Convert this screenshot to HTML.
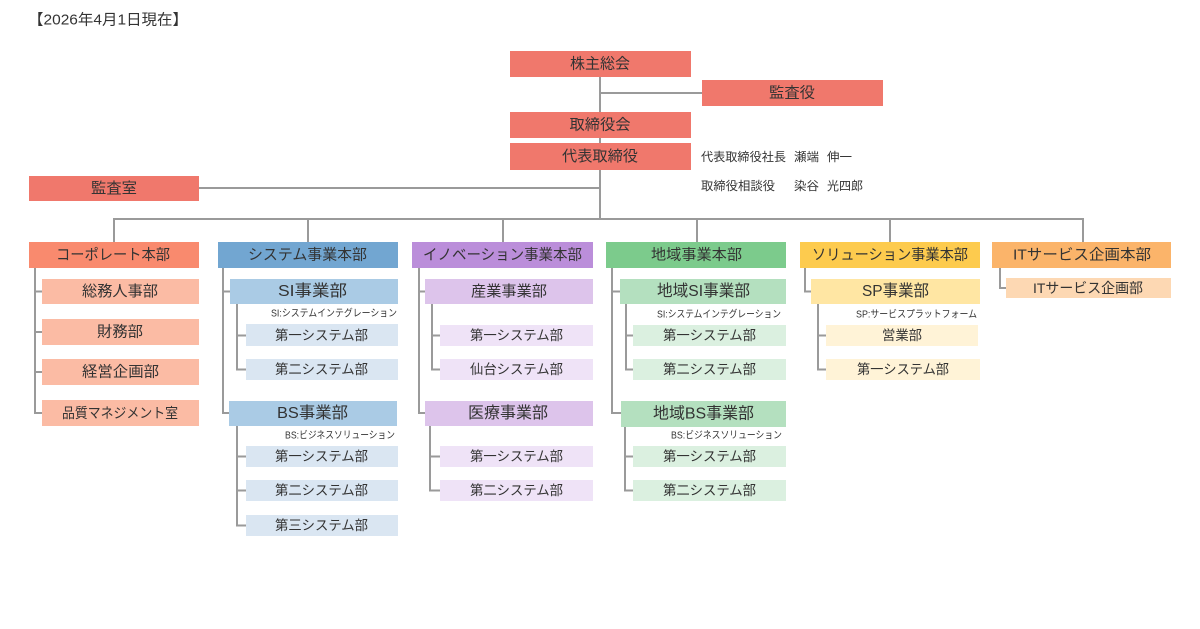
<!DOCTYPE html>
<html lang="ja">
<head>
<meta charset="utf-8">
<style>
  html,body{margin:0;padding:0;background:#fff;}
  svg{display:block;}
  text{font-family:"Liberation Sans","Noto Sans CJK JP",sans-serif;fill:#333;}
</style>
</head>
<body>
<svg width="1200" height="629" viewBox="0 0 1200 629" xmlns="http://www.w3.org/2000/svg">
  <!-- date -->
  <text x="28" y="20" font-size="15" dominant-baseline="central" textLength="160" lengthAdjust="spacingAndGlyphs">【2026年4月1日現在】</text>

  <!-- lines -->
  <g stroke="#9a9a9a" stroke-width="2" fill="none">
    <line x1="600" y1="77" x2="600" y2="219"/>
    <line x1="600" y1="93" x2="702" y2="93"/>
    <line x1="199" y1="188" x2="600" y2="188"/>
    <line x1="113" y1="219" x2="1084" y2="219"/>
    <line x1="114" y1="219" x2="114" y2="242"/>
    <line x1="308" y1="219" x2="308" y2="242"/>
    <line x1="503" y1="219" x2="503" y2="242"/>
    <line x1="697" y1="219" x2="697" y2="242"/>
    <line x1="890" y1="219" x2="890" y2="242"/>
    <line x1="1083" y1="219" x2="1083" y2="242"/>

    <!-- corporate -->
    <polyline points="35,268 35,413 42,413"/>
    <line x1="35" y1="291.5" x2="42" y2="291.5"/>
    <line x1="35" y1="332" x2="42" y2="332"/>
    <line x1="35" y1="372" x2="42" y2="372"/>

    <!-- system -->
    <polyline points="223,268 223,413 229,413"/>
    <line x1="223" y1="291.5" x2="230" y2="291.5"/>
    <polyline points="237,304 237,369.5 246,369.5"/>
    <line x1="237" y1="335.5" x2="246" y2="335.5"/>
    <polyline points="237,426 237,525.5 246,525.5"/>
    <line x1="237" y1="456.5" x2="246" y2="456.5"/>
    <line x1="237" y1="490.5" x2="246" y2="490.5"/>

    <!-- innovation -->
    <polyline points="419,268 419,413 425,413"/>
    <line x1="419" y1="291.5" x2="425" y2="291.5"/>
    <polyline points="432,304 432,369.5 440,369.5"/>
    <line x1="432" y1="335.5" x2="440" y2="335.5"/>
    <polyline points="430,426 430,490.5 440,490.5"/>
    <line x1="430" y1="456.5" x2="440" y2="456.5"/>

    <!-- local -->
    <polyline points="612,268 612,413 621,413"/>
    <line x1="612" y1="291.5" x2="620" y2="291.5"/>
    <polyline points="626,304 626,369.5 633,369.5"/>
    <line x1="626" y1="335.5" x2="633" y2="335.5"/>
    <polyline points="625,427 625,490.5 633,490.5"/>
    <line x1="625" y1="456.5" x2="633" y2="456.5"/>

    <!-- solution -->
    <polyline points="805,268 805,291.5 811,291.5"/>
    <polyline points="818,304 818,369.5 826,369.5"/>
    <line x1="818" y1="335.5" x2="826" y2="335.5"/>

    <!-- IT -->
    <polyline points="1000,268 1000,288 1006,288"/>
  </g>

  <!-- top boxes -->
  <g fill="#F0786C">
    <rect x="510" y="51" width="181" height="26"/>
    <rect x="702" y="80" width="181" height="26"/>
    <rect x="510" y="112" width="181" height="26"/>
    <rect x="510" y="143" width="181" height="27"/>
    <rect x="29" y="176" width="170" height="25"/>
  </g>
  <g font-size="15" text-anchor="middle" dominant-baseline="central">
    <text x="600" y="64" textLength="60" lengthAdjust="spacingAndGlyphs">株主総会</text>
    <text x="792" y="93" textLength="46" lengthAdjust="spacingAndGlyphs">監査役</text>
    <text x="600" y="125" textLength="61" lengthAdjust="spacingAndGlyphs">取締役会</text>
    <text x="600" y="156.5" textLength="76" lengthAdjust="spacingAndGlyphs">代表取締役</text>
    <text x="114" y="188.5" textLength="46" lengthAdjust="spacingAndGlyphs">監査室</text>
  </g>

  <!-- executives -->
  <g font-size="12" dominant-baseline="central">
    <text x="701" y="157" textLength="85" lengthAdjust="spacingAndGlyphs">代表取締役社長</text>
    <text x="794" y="157" textLength="25" lengthAdjust="spacingAndGlyphs">瀬端</text>
    <text x="827" y="157" textLength="25" lengthAdjust="spacingAndGlyphs">伸一</text>
    <text x="701" y="186" textLength="74" lengthAdjust="spacingAndGlyphs">取締役相談役</text>
    <text x="794" y="186" textLength="25" lengthAdjust="spacingAndGlyphs">染谷</text>
    <text x="827" y="186" textLength="36" lengthAdjust="spacingAndGlyphs">光四郎</text>
  </g>

  <!-- headers -->
  <rect x="29" y="242" width="170" height="26" fill="#F98A6E"/>
  <rect x="218" y="242" width="180" height="26" fill="#72A6D1"/>
  <rect x="412" y="242" width="181" height="26" fill="#BB8EDA"/>
  <rect x="606" y="242" width="180" height="26" fill="#7CCB8C"/>
  <rect x="800" y="242" width="180" height="26" fill="#FDCB4E"/>
  <rect x="992" y="242" width="179" height="26" fill="#FBB46A"/>
  <g font-size="15" text-anchor="middle" dominant-baseline="central">
    <text x="113" y="255" textLength="114" lengthAdjust="spacingAndGlyphs">コーポレート本部</text>
    <text x="307.5" y="255" textLength="119" lengthAdjust="spacingAndGlyphs">システム事業本部</text>
    <text x="502.5" y="255" textLength="159" lengthAdjust="spacingAndGlyphs">イノベーション事業本部</text>
    <text x="696.5" y="255" textLength="91" lengthAdjust="spacingAndGlyphs">地域事業本部</text>
    <text x="890" y="255" textLength="156" lengthAdjust="spacingAndGlyphs">ソリューション事業本部</text>
    <text x="1082" y="255" textLength="138" lengthAdjust="spacingAndGlyphs">ITサービス企画本部</text>
  </g>

  <!-- corporate subs -->
  <g fill="#FBBBA4">
    <rect x="42" y="279" width="157" height="25"/>
    <rect x="42" y="319" width="157" height="26"/>
    <rect x="42" y="359" width="157" height="26"/>
    <rect x="42" y="400" width="157" height="26"/>
  </g>
  <g font-size="15" text-anchor="middle" dominant-baseline="central">
    <text x="120" y="291.5" textLength="76" lengthAdjust="spacingAndGlyphs">総務人事部</text>
    <text x="120" y="332" textLength="46" lengthAdjust="spacingAndGlyphs">財務部</text>
    <text x="120.5" y="372" textLength="77" lengthAdjust="spacingAndGlyphs">経営企画部</text>
    <text x="120" y="413" font-size="14" textLength="116" lengthAdjust="spacingAndGlyphs">品質マネジメント室</text>
  </g>

  <!-- division boxes (level 2) -->
  <rect x="230" y="279" width="168" height="25" fill="#AACBE5"/>
  <rect x="229" y="401" width="168" height="25" fill="#AACBE5"/>
  <rect x="425" y="279" width="168" height="25" fill="#DDC4EB"/>
  <rect x="425" y="401" width="168" height="25" fill="#DDC4EB"/>
  <rect x="620" y="279" width="166" height="25" fill="#B4E0BF"/>
  <rect x="621" y="401" width="165" height="26" fill="#B4E0BF"/>
  <rect x="811" y="279" width="169" height="25" fill="#FFE6A3"/>
  <rect x="1006" y="278" width="165" height="20" fill="#FDD8B3"/>
  <g font-size="16" text-anchor="middle" dominant-baseline="central">
    <text x="312.5" y="291.5" textLength="69" lengthAdjust="spacingAndGlyphs">SI事業部</text>
    <text x="312.5" y="413.5" textLength="71" lengthAdjust="spacingAndGlyphs">BS事業部</text>
    <text x="509" y="291.5" font-size="15" textLength="76" lengthAdjust="spacingAndGlyphs">産業事業部</text>
    <text x="508" y="413.5" textLength="80" lengthAdjust="spacingAndGlyphs">医療事業部</text>
    <text x="703.5" y="291.5" textLength="93" lengthAdjust="spacingAndGlyphs">地域SI事業部</text>
    <text x="703.5" y="414" textLength="101" lengthAdjust="spacingAndGlyphs">地域BS事業部</text>
    <text x="895.5" y="291.5" textLength="67" lengthAdjust="spacingAndGlyphs">SP事業部</text>
    <text x="1088" y="288" font-size="14" textLength="110" lengthAdjust="spacingAndGlyphs">ITサービス企画部</text>
  </g>

  <!-- notes -->
  <g font-size="10" text-anchor="end" dominant-baseline="central">
    <text x="397" y="314" textLength="126" lengthAdjust="spacingAndGlyphs">SI:システムインテグレーション</text>
    <text x="395" y="436" textLength="110" lengthAdjust="spacingAndGlyphs">BS:ビジネスソリューション</text>
    <text x="781" y="315" textLength="124" lengthAdjust="spacingAndGlyphs">SI:システムインテグレーション</text>
    <text x="782" y="436" textLength="111" lengthAdjust="spacingAndGlyphs">BS:ビジネスソリューション</text>
    <text x="977" y="315" textLength="121" lengthAdjust="spacingAndGlyphs">SP:サービスプラットフォーム</text>
  </g>

  <!-- level 3 boxes -->
  <g fill="#DAE6F2">
    <rect x="246" y="324" width="152" height="22"/>
    <rect x="246" y="359" width="152" height="21"/>
    <rect x="246" y="446" width="152" height="21"/>
    <rect x="246" y="480" width="152" height="21"/>
    <rect x="246" y="515" width="152" height="21"/>
  </g>
  <g fill="#EFE3F7">
    <rect x="440" y="325" width="153" height="21"/>
    <rect x="440" y="359" width="153" height="21"/>
    <rect x="440" y="446" width="153" height="21"/>
    <rect x="440" y="480" width="153" height="21"/>
  </g>
  <g fill="#DBF0E0">
    <rect x="633" y="325" width="153" height="21"/>
    <rect x="633" y="359" width="153" height="21"/>
    <rect x="633" y="446" width="153" height="21"/>
    <rect x="633" y="480" width="153" height="21"/>
  </g>
  <g fill="#FFF3D7">
    <rect x="826" y="325" width="152" height="21"/>
    <rect x="826" y="359" width="154" height="21"/>
  </g>
  <g font-size="13.5" text-anchor="middle" dominant-baseline="central">
    <text x="321.5" y="335.5" textLength="93" lengthAdjust="spacingAndGlyphs">第一システム部</text>
    <text x="321.5" y="369.5" textLength="93" lengthAdjust="spacingAndGlyphs">第二システム部</text>
    <text x="321.5" y="456.5" textLength="93" lengthAdjust="spacingAndGlyphs">第一システム部</text>
    <text x="321.5" y="490.5" textLength="93" lengthAdjust="spacingAndGlyphs">第二システム部</text>
    <text x="321.5" y="525.5" textLength="93" lengthAdjust="spacingAndGlyphs">第三システム部</text>

    <text x="516.5" y="335.5" textLength="93" lengthAdjust="spacingAndGlyphs">第一システム部</text>
    <text x="516.5" y="369.5" textLength="93" lengthAdjust="spacingAndGlyphs">仙台システム部</text>
    <text x="516.5" y="456.5" textLength="93" lengthAdjust="spacingAndGlyphs">第一システム部</text>
    <text x="516.5" y="490.5" textLength="93" lengthAdjust="spacingAndGlyphs">第二システム部</text>

    <text x="709.5" y="335.5" textLength="93" lengthAdjust="spacingAndGlyphs">第一システム部</text>
    <text x="709.5" y="369.5" textLength="93" lengthAdjust="spacingAndGlyphs">第二システム部</text>
    <text x="709.5" y="456.5" textLength="93" lengthAdjust="spacingAndGlyphs">第一システム部</text>
    <text x="709.5" y="490.5" textLength="93" lengthAdjust="spacingAndGlyphs">第二システム部</text>

    <text x="902" y="335.5" textLength="40" lengthAdjust="spacingAndGlyphs">営業部</text>
    <text x="903" y="369.5" textLength="92" lengthAdjust="spacingAndGlyphs">第一システム部</text>
  </g>
</svg>
</body>
</html>
